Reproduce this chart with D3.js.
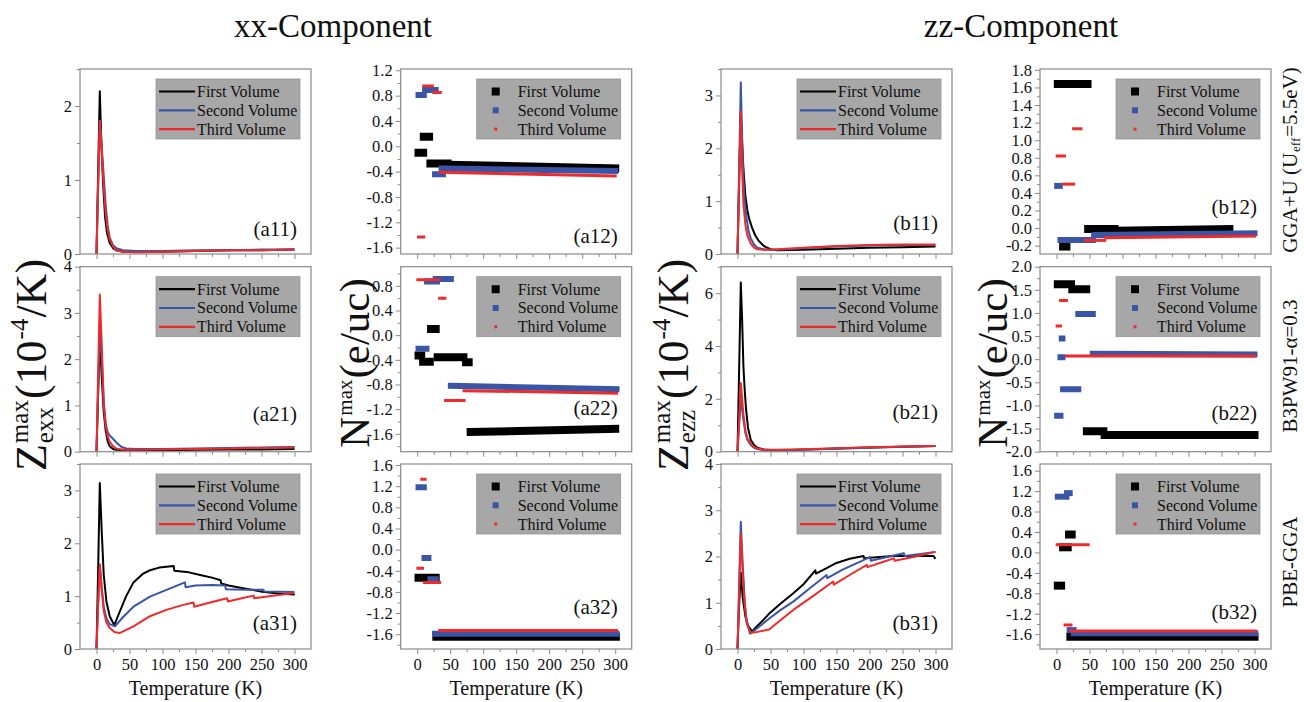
<!DOCTYPE html>
<html>
<head>
<meta charset="utf-8">
<script src="https://cdn.jsdelivr.net/npm/d3@7"></script>
<style>
body { margin: 0; background: #fff; }
svg text { font-family: "Liberation Serif", "Times New Roman", serif; fill: #111; }
</style>
</head>
<body>
<script>
// series names / colours
const volumes = ['First Volume', 'Second Volume', 'Third Volume'];
const volColors = ['#000000', '#3a55a6', '#ee2a2a'];
const dotSizes = [8, 6, 3];
const tempTicks = [0, 50, 100, 150, 200, 250, 300];

// ---- Z^max curves : [T, value]
const a11First = [[0,0],[2,0.9],[5,2.2],[7,1.6],[10,0.95],[13,0.5],[16,0.28],[20,0.15],[25,0.08],[30,0.05],[40,0.03],[60,0.03],[100,0.03],[150,0.04],[200,0.05],[250,0.05],[300,0.06]];
const a11Second = [[0,0],[2,0.75],[5,1.8],[8,1.45],[11,1.05],[14,0.65],[17,0.38],[20,0.22],[25,0.12],[30,0.08],[40,0.05],[60,0.04],[100,0.04],[150,0.05],[200,0.05],[250,0.06],[300,0.06]];
const a11Third = [[0,0],[2,0.75],[5,1.8],[8,1.35],[11,0.9],[14,0.55],[17,0.32],[20,0.2],[25,0.1],[30,0.05],[40,0.03],[60,0.02],[100,0.03],[150,0.04],[200,0.05],[250,0.05],[300,0.06]];

const a21First = [[0,0],[2,1],[5,2.5],[8,1.6],[11,0.85],[14,0.45],[17,0.22],[20,0.12],[25,0.06],[30,0.04],[50,0.03],[100,0.03],[150,0.04],[200,0.05],[250,0.05],[300,0.06]];
const a21Second = [[0,0],[2,1.1],[5,2.7],[8,2.0],[11,1.1],[14,0.6],[17,0.42],[20,0.35],[25,0.28],[30,0.2],[38,0.1],[45,0.07],[60,0.06],[100,0.06],[150,0.07],[200,0.08],[250,0.09],[300,0.1]];
const a21Third = [[0,0],[2,1.4],[5,3.4],[8,2.3],[11,1.0],[14,0.55],[17,0.33],[20,0.22],[25,0.12],[30,0.07],[40,0.04],[60,0.04],[100,0.05],[150,0.06],[200,0.07],[250,0.08],[300,0.09]];

const a31First = [[0,0],[2,1.2],[5,3.14],[8,2.2],[11,1.4],[15,0.9],[20,0.62],[27,0.45],[35,0.7],[45,1.0],[56,1.26],[70,1.42],[81,1.49],[95,1.54],[117,1.57],[118,1.48],[140,1.45],[157,1.4],[175,1.35],[188,1.3],[189,1.24],[200,1.2],[218,1.16],[248,1.09],[275,1.05],[299,1.03],[300,1.02]];
const a31Second = [[0,0],[2,0.7],[5,1.6],[8,1.15],[11,0.8],[15,0.58],[20,0.47],[28,0.43],[40,0.6],[56,0.8],[81,0.99],[106,1.12],[134,1.26],[135,1.17],[150,1.2],[175,1.21],[195,1.2],[196,1.13],[225,1.12],[253,1.12],[254,1.09],[300,1.08]];
const a31Third = [[0,0],[2,0.7],[5,1.6],[8,1.1],[11,0.72],[15,0.5],[20,0.4],[27,0.32],[35,0.3],[45,0.36],[56,0.43],[81,0.62],[106,0.74],[130,0.83],[147,0.88],[148,0.8],[175,0.89],[198,0.96],[199,0.9],[220,0.96],[238,1.01],[239,0.96],[270,1.01],[300,1.06]];

const b11First = [[0,0],[2,1.1],[5,2.7],[7,2.1],[9,1.6],[12,1.1],[15,0.82],[18,0.65],[22,0.5],[27,0.35],[32,0.25],[40,0.15],[50,0.09],[60,0.07],[100,0.08],[150,0.1],[200,0.12],[250,0.13],[300,0.14]];
const b11Second = [[0,0],[2,1.3],[5,3.25],[7,2.2],[9,1.4],[11,1.0],[14,0.65],[17,0.42],[20,0.3],[25,0.18],[30,0.12],[40,0.09],[50,0.08],[60,0.08],[100,0.11],[150,0.14],[200,0.16],[250,0.17],[300,0.17]];
const b11Third = [[0,0],[2,1.1],[5,2.7],[7,1.6],[9,0.95],[12,0.55],[15,0.35],[20,0.2],[25,0.12],[30,0.09],[40,0.08],[50,0.08],[60,0.09],[100,0.12],[150,0.15],[200,0.17],[250,0.18],[300,0.18]];

const b21First = [[0,0],[2,2.5],[5,6.4],[7,5.0],[9,3.2],[11,2.3],[13,1.6],[16,0.9],[20,0.45],[25,0.25],[30,0.15],[40,0.08],[60,0.05],[100,0.08],[150,0.12],[200,0.16],[250,0.19],[300,0.22]];
const b21Second = [[0,0],[2,0.8],[5,2.0],[7,1.6],[9,1.2],[12,0.7],[15,0.45],[20,0.25],[25,0.15],[30,0.1],[40,0.05],[60,0.03],[100,0.07],[150,0.11],[200,0.15],[250,0.19],[300,0.22]];
const b21Third = [[0,0],[2,1.0],[5,2.6],[7,2.0],[9,1.4],[12,0.8],[15,0.5],[20,0.3],[25,0.18],[30,0.12],[40,0.08],[60,0.07],[100,0.09],[150,0.13],[200,0.17],[250,0.2],[300,0.22]];

const b31First = [[0,0],[2,0.8],[5,1.65],[8,1.1],[12,0.7],[16,0.5],[22,0.38],[30,0.5],[40,0.64],[49,0.78],[65,0.98],[85,1.21],[100,1.4],[118,1.7],[119,1.63],[135,1.75],[150,1.86],[170,1.95],[191,2.01],[192,1.96],[215,1.99],[237,2.01],[270,2.01],[297,2.01],[300,1.95]];
const b31Second = [[0,0],[2,1.1],[5,2.75],[8,1.8],[11,1.0],[14,0.6],[19,0.33],[30,0.45],[49,0.67],[65,0.84],[85,1.03],[110,1.32],[135,1.6],[136,1.53],[160,1.72],[186,1.89],[201,1.99],[202,1.91],[230,2.0],[252,2.07],[253,2.01],[280,2.06],[300,2.1]];
const b31Third = [[0,0],[2,1.0],[5,2.5],[8,1.6],[11,0.95],[14,0.55],[20,0.35],[30,0.37],[48,0.42],[65,0.62],[85,0.85],[110,1.1],[145,1.46],[146,1.39],[170,1.6],[196,1.82],[197,1.77],[220,1.88],[237,1.96],[238,1.91],[270,2.0],[300,2.1]];

// ---- N^max runs of markers : [T start, T end, value at start, value at end]
const a12First = [[2,9,-0.10,-0.10],[10,18,0.15,0.15],[20,46,-0.27,-0.27],[46,300,-0.29,-0.35]];
const a12Second = [[2,10,0.81,0.81],[12,28,0.89,0.89],[27,39,-0.44,-0.44],[37,300,-0.35,-0.39]];
const a12Third = [[2,10,-1.43,-1.43],[10,23,0.95,0.95],[25,35,0.85,0.85],[35,300,-0.41,-0.47]];

const a22First = [[2,6,-0.33,-0.33],[9,19,-0.43,-0.43],[21,28,0.10,0.10],[31,70,-0.36,-0.36],[74,78,-0.44,-0.44],[81,300,-1.57,-1.52]];
const a22Second = [[2,14,-0.22,-0.22],[15,30,0.87,0.87],[28,51,0.91,0.91],[51,302,-0.82,-0.875]];
const a22Third = [[1,33,0.90,0.90],[34,42,0.60,0.60],[43,71,-1.06,-1.06],[71,302,-0.90,-0.94]];

const a32First = [[2,28,-0.53,-0.53],[29,301,-1.65,-1.65]];
const a32Second = [[2,10,1.18,1.18],[11,17,-0.16,-0.16],[20,28,-0.56,-0.56],[27,302,-1.59,-1.59]];
const a32Third = [[7,12,1.33,1.33],[1,8,-0.35,-0.35],[11,34,-0.62,-0.62],[34,302,-1.53,-1.53]];

const b12First = [[2,47,1.64,1.64],[10,15,-0.21,-0.21],[48,88,-0.01,-0.01],[88,262,-0.03,-0.01]];
const b12Second = [[1,5,0.48,0.48],[6,55,-0.135,-0.135],[57,300,-0.08,-0.06]];
const b12Third = [[1,12,0.82,0.82],[11,26,0.50,0.50],[26,37,1.13,1.13],[44,73,-0.14,-0.14],[75,300,-0.11,-0.09]];

const b22First = [[2,22,1.62,1.62],[24,45,1.51,1.51],[46,71,-1.56,-1.56],[73,300,-1.64,-1.64]];
const b22Second = [[1,6,-1.22,-1.22],[8,9,0.45,0.45],[6,9,0.04,0.04],[10,33,-0.65,-0.65],[33,55,0.98,0.98],[55,300,0.12,0.10]];
const b22Third = [[6,15,1.27,1.27],[1,6,0.72,0.72],[15,300,0.07,0.07]];

const b32First = [[2,7,-0.65,-0.65],[10,17,0.10,0.10],[19,23,0.35,0.35],[21,300,-1.65,-1.65]];
const b32Second = [[2,15,1.09,1.09],[16,20,1.16,1.16],[20,26,-1.52,-1.52],[26,301,-1.58,-1.58]];
const b32Third = [[1,48,0.15,0.15],[13,22,-1.42,-1.42],[22,301,-1.54,-1.54]];

// y tick labels
const a11Ticks = [0, 1, 2];
const a21Ticks = [0, 1, 2, 3, 4];
const a31Ticks = [0, 1, 2, 3];
const b11Ticks = [0, 1, 2, 3];
const b21Ticks = [0, 2, 4, 6];
const b31Ticks = [0, 1, 2, 3, 4];
const a12Ticks = [-1.6, -1.2, -0.8, -0.4, 0.0, 0.4, 0.8, 1.2];
const a22Ticks = [-1.6, -1.2, -0.8, -0.4, 0.0, 0.4, 0.8];
const a32Ticks = [-1.6, -1.2, -0.8, -0.4, 0.0, 0.4, 0.8, 1.2, 1.6];
const b12Ticks = [-0.2, 0.0, 0.2, 0.4, 0.6, 0.8, 1.0, 1.2, 1.4, 1.6, 1.8];
const b22Ticks = [-2.0, -1.5, -1.0, -0.5, 0.0, 0.5, 1.0, 1.5, 2.0];
const b32Ticks = [-1.6, -1.2, -0.8, -0.4, 0.0, 0.4, 0.8, 1.2, 1.6];

const methods = ['GGA+U (U|eff|=5.5eV)', 'B3PW91-\u03b1=0.3', 'PBE-GGA'];

// layout
const colX = [80, 400.7, 721, 1040];
const colW = 231;
const rowY = [69, 266.7, 464];
const rowH = 185;
const tempDomain = [-25, 325];

const panels = [
  {name: '(a11)', col: 0, row: 0, kind: 'line', y: [0, 2.5], ticks: a11Ticks, minor: 0.5, data: [a11First, a11Second, a11Third], up: 18},
  {name: '(a12)', col: 1, row: 0, kind: 'dot', y: [-1.7, 1.22], ticks: a12Ticks, minor: 0.2, data: [a12First, a12Second, a12Third], up: 11},
  {name: '(b11)', col: 2, row: 0, kind: 'line', y: [0, 3.5], ticks: b11Ticks, minor: 0.5, data: [b11First, b11Second, b11Third], up: 24},
  {name: '(b12)', col: 3, row: 0, kind: 'dot', y: [-0.295, 1.81], ticks: b12Ticks, minor: 0.1, data: [b12First, b12Second, b12Third], up: 40},
  {name: '(a21)', col: 0, row: 1, kind: 'line', y: [0, 4], ticks: a21Ticks, minor: 0.5, data: [a21First, a21Second, a21Third], up: 31},
  {name: '(a22)', col: 1, row: 1, kind: 'dot', y: [-1.89, 1.11], ticks: a22Ticks, minor: 0.2, data: [a22First, a22Second, a22Third], up: 37},
  {name: '(b21)', col: 2, row: 1, kind: 'line', y: [0, 7], ticks: b21Ticks, minor: 1, data: [b21First, b21Second, b21Third], up: 33},
  {name: '(b22)', col: 3, row: 1, kind: 'dot', y: [-2, 2], ticks: b22Ticks, minor: 0.25, data: [b22First, b22Second, b22Third], up: 32},
  {name: '(a31)', col: 0, row: 2, kind: 'line', y: [0, 3.5], ticks: a31Ticks, minor: 0.5, data: [a31First, a31Second, a31Third], up: 19},
  {name: '(a32)', col: 1, row: 2, kind: 'dot', y: [-1.88, 1.62], ticks: a32Ticks, minor: 0.2, data: [a32First, a32Second, a32Third], up: 35},
  {name: '(b31)', col: 2, row: 2, kind: 'line', y: [0, 4], ticks: b31Ticks, minor: 0.5, data: [b31First, b31Second, b31Third], up: 19},
  {name: '(b32)', col: 3, row: 2, kind: 'dot', y: [-1.89, 1.73], ticks: b32Ticks, minor: 0.2, data: [b32First, b32Second, b32Third], up: 30}
];

const frameColor = '#8a8a8a';
const serif = '"Liberation Serif", "Times New Roman", serif';

const svg = d3.select('body').append('svg')
  .attr('width', 1304)
  .attr('height', 702)
  .attr('font-family', serif);

// titles
svg.append('text').attr('x', 333).attr('y', 37).attr('text-anchor', 'middle')
  .attr('font-size', 33).text('xx-Component');
svg.append('text').attr('x', 1021).attr('y', 37).attr('text-anchor', 'middle')
  .attr('font-size', 33).text('zz-Component');

panels.forEach((p, pi) => {
  const x0 = colX[p.col], y0 = rowY[p.row];
  const g = svg.append('g').attr('transform', `translate(${x0},${y0})`);
  const x = d3.scaleLinear().domain(tempDomain).range([0, colW]);
  const y = d3.scaleLinear().domain(p.y).range([rowH, 0]);

  const fmt = p.kind === 'dot' ? (d => d.toFixed(1)) : (d => String(d));

  // minor ticks
  const minorVals = d3.range(Math.ceil(p.y[0] / p.minor - 1e-6) * p.minor, p.y[1] + 1e-6, p.minor)
    .filter(v => !p.ticks.some(t => Math.abs(t - v) < 1e-6));
  g.append('g').call(d3.axisLeft(y).tickValues(minorVals).tickSize(3).tickFormat(''))
    .call(a => a.select('.domain').remove())
    .selectAll('line').attr('stroke', frameColor);

  const ya = g.append('g').call(d3.axisLeft(y).tickValues(p.ticks).tickSize(5).tickPadding(3).tickFormat(fmt));
  ya.attr('font-family', serif);
  ya.select('.domain').remove();
  ya.selectAll('line').attr('stroke', frameColor);
  ya.selectAll('text').attr('font-size', 16.5).attr('fill', '#111');

  g.append('g').attr('transform', `translate(0,${rowH})`)
    .call(d3.axisBottom(x).tickValues(d3.range(25, 301, 50)).tickSize(3).tickFormat(''))
    .call(a => a.select('.domain').remove())
    .selectAll('line').attr('stroke', frameColor);
  const xa = g.append('g').attr('transform', `translate(0,${rowH})`)
    .call(d3.axisBottom(x).tickValues(tempTicks).tickSize(5).tickPadding(4)
      .tickFormat(p.row === 2 ? d3.format('d') : ''));
  xa.attr('font-family', serif);
  xa.select('.domain').remove();
  xa.selectAll('line').attr('stroke', frameColor);
  xa.selectAll('text').attr('font-size', 16.5).attr('fill', '#111');

  const clipId = 'clip' + pi;
  g.append('clipPath').attr('id', clipId).append('rect')
    .attr('width', colW).attr('height', rowH);
  const plot = g.append('g').attr('clip-path', `url(#${clipId})`);

  if (p.kind === 'line') {
    const line = d3.line().x(d => x(d[0])).y(d => y(d[1]));
    p.data.forEach((s, i) => {
      plot.append('path').datum(s)
        .attr('fill', 'none')
        .attr('stroke', volColors[i])
        .attr('stroke-width', 2)
        .attr('stroke-linejoin', 'round')
        .attr('d', line);
    });
  } else {
    p.data.forEach((s, i) => {
      plot.append('g').selectAll('line').data(s).join('line')
        .attr('x1', d => x(d[0])).attr('x2', d => x(d[1]))
        .attr('y1', d => y(d[2])).attr('y2', d => y(d[3]))
        .attr('stroke', volColors[i])
        .attr('stroke-width', dotSizes[i])
        .attr('stroke-linecap', 'square');
    });
  }

  // frame
  g.append('rect').attr('width', colW).attr('height', rowH)
    .attr('fill', 'none').attr('stroke', frameColor).attr('stroke-width', 1.2);

  // legend
  const lw = 144, lh = 60;
  const lg = g.append('g').attr('transform', `translate(${colW - 11 - lw},10)`);
  lg.append('rect').attr('width', lw).attr('height', lh)
    .attr('fill', '#a7a7a7').attr('stroke', '#959595').attr('stroke-width', 0.8);
  volumes.forEach((name, i) => {
    const cy = 12.5 + i * 18.8;
    if (p.kind === 'line') {
      lg.append('line').attr('x1', 3).attr('x2', 39).attr('y1', cy).attr('y2', cy)
        .attr('stroke', volColors[i]).attr('stroke-width', 2.2);
    } else {
      lg.append('rect').attr('x', 19 - dotSizes[i] / 2).attr('y', cy - dotSizes[i] / 2)
        .attr('width', dotSizes[i]).attr('height', dotSizes[i]).attr('fill', volColors[i]);
    }
    lg.append('text').attr('x', 41).attr('y', cy + 5.5).attr('font-size', 16).text(name);
  });

  // panel tag
  g.append('text').attr('x', colW - 14).attr('y', rowH - p.up)
    .attr('text-anchor', 'end').attr('font-size', 21).text(p.name);

  if (p.row === 2) {
    g.append('text').attr('x', colW / 2).attr('y', 695 - y0)
      .attr('text-anchor', 'middle').attr('font-size', 20).text('Temperature (K)');
  }
});

// rotated labels with super / subscripts
function richLabel(cx, cy, parts, big, small) {
  const g = svg.append('g').attr('transform', `translate(${cx},${cy}) rotate(-90)`);
  const t = g.append('text');
  let pos = 0;
  parts.forEach(p => {
    if (p.text !== undefined) {
      const s = t.append('tspan').attr('x', pos).attr('y', 0).attr('font-size', big).text(p.text);
      pos += s.node().getComputedTextLength();
    } else {
      let w = 0;
      if (p.sup) {
        const s = t.append('tspan').attr('x', pos + 1).attr('y', -big * 0.4).attr('font-size', small).text(p.sup);
        w = Math.max(w, s.node().getComputedTextLength());
      }
      if (p.sub) {
        const s = t.append('tspan').attr('x', pos + 1).attr('y', big * 0.16).attr('font-size', small).text(p.sub);
        w = Math.max(w, s.node().getComputedTextLength());
      }
      pos += w + 2;
    }
  });
  t.attr('transform', `translate(${-pos / 2},0)`);
}

const zxx = [{text: 'Z'}, {sup: 'max', sub: 'exx'}, {text: '(10'}, {sup: '-4'}, {text: '/K)'}];
const zzz = [{text: 'Z'}, {sup: 'max', sub: 'ezz'}, {text: '(10'}, {sup: '-4'}, {text: '/K)'}];
const nmax = [{text: 'N'}, {sup: 'max'}, {text: '(e/uc)'}];
richLabel(46, 365, zxx, 44, 25);
richLabel(369, 363, nmax, 43, 21);
richLabel(688, 365, zzz, 44, 25);
richLabel(1007, 363, nmax, 43, 21);

const methodY = [160, 366, 562];
methods.forEach((m, i) => {
  const bits = m.split('|');
  const parts = bits.length === 3 ? [{text: bits[0]}, {sub: bits[1]}, {text: bits[2]}] : [{text: m}];
  richLabel(1297, methodY[i], parts, 21, 13);
});
</script>
</body>
</html>
